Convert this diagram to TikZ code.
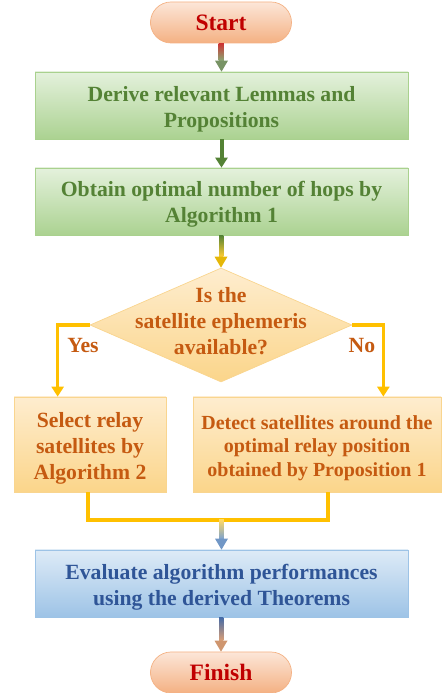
\documentclass[tikz,border=0pt]{standalone}
\usepackage{fontspec}
\setmainfont{Liberation Serif}
\usetikzlibrary{shapes.geometric,arrows.meta,calc}
\definecolor{stTop}{HTML}{FCE6D8}
\definecolor{stBot}{HTML}{F4B183}
\definecolor{stDraw}{HTML}{F4B183}
\definecolor{stText}{HTML}{C00000}
\definecolor{grTop}{HTML}{E4F1DC}
\definecolor{grBot}{HTML}{ABD291}
\definecolor{grDraw}{HTML}{A9D18E}
\definecolor{grText}{HTML}{548235}
\definecolor{orTop}{HTML}{FEEDCF}
\definecolor{orBot}{HTML}{FBD58A}
\definecolor{orDraw}{HTML}{F9D58F}
\definecolor{orText}{HTML}{C55A11}
\definecolor{blTop}{HTML}{DEEBF7}
\definecolor{blBot}{HTML}{9DC3E6}
\definecolor{blDraw}{HTML}{9DC3E6}
\definecolor{blText}{HTML}{2F5597}
\definecolor{gold}{HTML}{FFC000}
\newcommand\gradarrow[5]{%
  \shade[top color=#3, bottom color=#4] ($(#1)+(-2.3,0)$) rectangle ($(#2)+(2.3,11)$);
  \fill[#5] ($(#2)+(-6.5,11)$) -- ($(#2)+(6.5,11)$) -- (#2) -- cycle;}
\tikzset{
  bigtext/.style={font=\bfseries\fontsize{21.7}{26}\selectfont},
  terminal/.style={rectangle, rounded corners=20.5pt, minimum width=141pt, minimum height=41pt,
    inner sep=0pt, top color=stTop, bottom color=stBot, draw=stDraw, line width=0.7pt,
    text=stText, font=\bfseries\fontsize{23.5}{28}\selectfont},
  greenbox/.style={rectangle, minimum width=373pt, minimum height=67pt, inner sep=0pt,
    top color=grTop, bottom color=grBot, draw=grDraw, line width=0.7pt},
  orangebox/.style={rectangle, minimum height=95pt, inner sep=0pt,
    top color=orTop, bottom color=orBot, draw=orDraw, line width=0.7pt},
  bluebox/.style={rectangle, minimum width=373pt, minimum height=67pt, inner sep=0pt,
    top color=blTop, bottom color=blBot, draw=blDraw, line width=0.7pt},
  decision/.style={diamond, minimum width=262pt, minimum height=114pt, inner sep=0pt,
    top color=orTop, bottom color=orBot, draw=orDraw, line width=0.7pt},
  boxtext/.style={inner sep=0pt, align=center, bigtext},
  goldline/.style={draw=gold, line width=3.6pt, line join=miter},
  goldarrow/.style={goldline, -{Triangle[width=12pt,length=10pt]}},
  greenarrow/.style={draw=grText, line width=4pt, -{Triangle[width=12pt,length=10pt]}},
  branchlabel/.style={text=orText, bigtext}
}
\begin{document}
\begin{tikzpicture}[x=1pt,y=1pt]
\useasboundingbox (0,0) rectangle (444,693);
% shapes
\node[terminal] (start) at (221,670.5) {Start};
\node[greenbox] (box1) at (221.5,587.5) {};
\node[greenbox] (box2) at (221.5,491.5) {};
\node[decision] (dec) at (221,368) {};
\node[orangebox, minimum width=152pt] (lbox) at (90,248.5) {};
\node[orangebox, minimum width=248pt] (rbox) at (317,248.5) {};
\node[bluebox] (evalbox) at (221.5,109.5) {};
\node[terminal] (finish) at (221,20.5) {Finish};
% texts
\node[boxtext, text=grText] (box1t) at ($(box1)+(0,-3.5)$) {Derive relevant Lemmas and\\Propositions};
\node[boxtext, text=grText] (box2t) at ($(box2)+(0,-3)$) {Obtain optimal number of hops by\\Algorithm 1};
\node[boxtext, text=orText] (dect) at ($(dec)+(0,3.5)$) {Is the\\satellite ephemeris\\available?};
\node[boxtext, text=orText] (lboxt) at ($(lbox)+(0,-3.5)$) {Select relay\\satellites by\\Algorithm 2};
\node[boxtext, text=orText, font=\bfseries\fontsize{20}{23.5}\selectfont] (rboxt) at ($(rbox)+(0,-3.5)$)
  {Detect satellites around the\\optimal relay position\\obtained by Proposition 1};
\node[boxtext, text=blText] (evalt) at ($(evalbox)+(0,-3.5)$) {Evaluate algorithm performances\\using the derived Theorems};
\node[branchlabel] (yes) at (83,347) {Yes};
\node[branchlabel] (no) at (362,347) {No};

% connectors
\gradarrow{start.south}{box1.north}{stText!80!white}{grBot!80!black}{grBot!70!black}
\draw[greenarrow] (box1.south) -- (box2.north);
\gradarrow{box2.south}{dec.north}{grText}{gold!80!white}{gold!85!grText}
\coordinate (yesc) at ($(lbox.north west)+(44,0)$);
\coordinate (noc) at ($(rbox.north east)+(-58,0)$);
\draw[goldarrow] (dec.west) -| (yesc);
\draw[goldarrow] (dec.east) -| (noc);
\coordinate (mL) at (88,173);
\coordinate (mR) at (328,173);
\coordinate (mC) at (mL -| evalbox.north);
\draw[goldline] (lbox.south -| mL) -- (mL) -- (mR) -- (rbox.south -| mR);
\gradarrow{mC}{evalbox.north}{gold!60!white}{blBot!70!blText}{blBot!60!blText}
\gradarrow{evalbox.south}{finish.north}{blText!80!blBot}{stBot!90!black}{stBot!85!black}
\end{tikzpicture}
\end{document}
